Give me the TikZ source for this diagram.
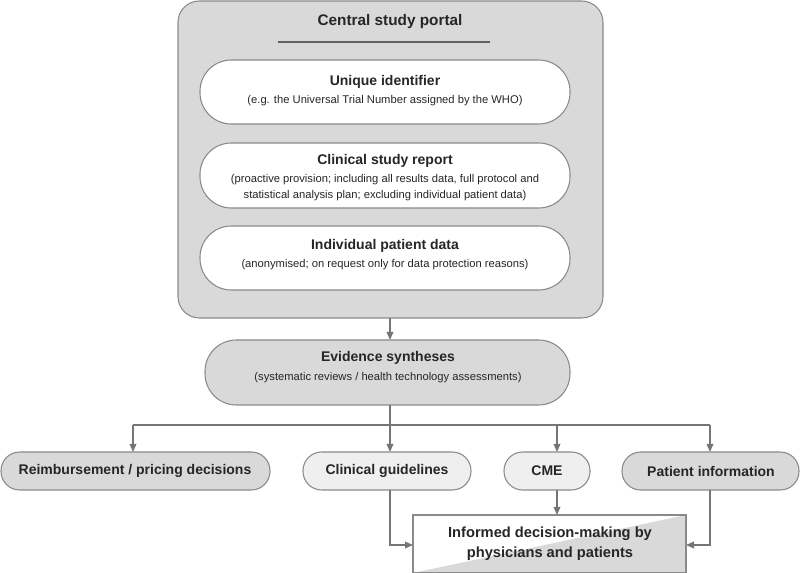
\documentclass[tikz,border=0pt]{standalone}
\usepackage{fontspec}
\setmainfont{Liberation Sans}
\usetikzlibrary{arrows.meta}
\definecolor{bd}{HTML}{8A8A8A}
\definecolor{gfill}{HTML}{D9D9D9}
\definecolor{lfill}{HTML}{EFEFEF}
\definecolor{txt}{HTML}{262626}
\begin{document}
\begin{tikzpicture}[x=0.75pt,y=-0.75pt,
  pill/.style={draw=bd,line width=0.8pt,rounded corners=#1},
  ttl/.style={font=\fontsize{10.5}{13}\selectfont\bfseries,text=txt,align=center},
  sub/.style={font=\fontsize{8.4}{12}\selectfont,text=txt,align=center},
  arr/.style={draw=bd!85!black,line width=0.9pt,-{Triangle[length=6pt,width=5pt]}}]
\useasboundingbox (0,0) rectangle (800,573);
% portal
\draw[pill=16pt,fill=gfill] (178,1) rectangle (603,318);
\node[ttl,font=\fontsize{11.5}{14}\selectfont\bfseries] (pt) at (390,22) {Central study portal};
\draw[bd!70!black,line width=0.8pt] (278,42) -- (490,42);
\draw[pill=23.5pt,fill=white] (200,60) rectangle (570,124);
\node[ttl] (u1) at (385,82) {Unique identifier};
\node[sub] (u2) at (385,101) {(e.g. the Universal Trial Number assigned by the WHO)};
\draw[pill=23.5pt,fill=white] (200,143) rectangle (570,208);
\node[ttl] (c1) at (385,161) {Clinical study report};
\node[sub] (c2) at (385,188) {(proactive provision; including all results data, full protocol and\\statistical analysis plan; excluding individual patient data)};
\draw[pill=23.5pt,fill=white] (200,226) rectangle (570,290);
\node[ttl] (i1) at (385,246) {Individual patient data};
\node[sub] (i2) at (385,265) {(anonymised; on request only for data protection reasons)};
% evidence
\coordinate (p1) at (390,318);
\coordinate (e0) at (390,340);
\draw[arr] (p1) -- (e0);
\draw[pill=23.5pt,fill=gfill] (205,340) rectangle (570,405);
\node[ttl] (ev) at (388,358) {Evidence syntheses};
\node[sub] (ev2) at (388,378) {(systematic reviews / health technology assessments)};
% branches
\coordinate (e1) at (390,405);
\coordinate (h) at (390,425);
\draw[bd!85!black,line width=0.9pt] (e1) -- (h) (133,425) -- (710,425);
\coordinate (ta) at (133,452); \coordinate (tb) at (390,452);
\coordinate (tc) at (557,452); \coordinate (td) at (710,452);
\draw[arr] (133,425) -- (ta);
\draw[arr] (390,425) -- (tb);
\draw[arr] (557,425) -- (tc);
\draw[arr] (710,425) -- (td);
\draw[pill=14pt,fill=gfill] (1,452) rectangle (270,490);
\node[ttl] (rb) at (135,471) {Reimbursement / pricing decisions};
\draw[pill=14pt,fill=lfill] (303,452) rectangle (471,490);
\node[ttl] (cg) at (387,471) {Clinical guidelines};
\draw[pill=14pt,fill=lfill] (504,452) rectangle (590,490);
\node[ttl] (cme) at (547,471) {CME};
\draw[pill=14pt,fill=gfill] (622,452) rectangle (799,490);
\node[ttl] (pi) at (711,471) {Patient information};
% informed
\fill[white] (413,515) rectangle (686,573);
\fill[gfill] (413,573) -- (686,515) -- (686,573) -- cycle;
\draw[bd,line width=0.8pt] (413,515) rectangle (686,572.5);
\node[ttl,font=\fontsize{11}{15}\selectfont\bfseries] (idm) at (550,544) {Informed decision-making by\\physicians and patients};
\draw[arr] (390,490) -- (390,545) -- (413,545);
\draw[arr] (557,490) -- (557,515);
\draw[arr] (710,490) -- (710,545) -- (686,545);
\end{tikzpicture}
\end{document}
